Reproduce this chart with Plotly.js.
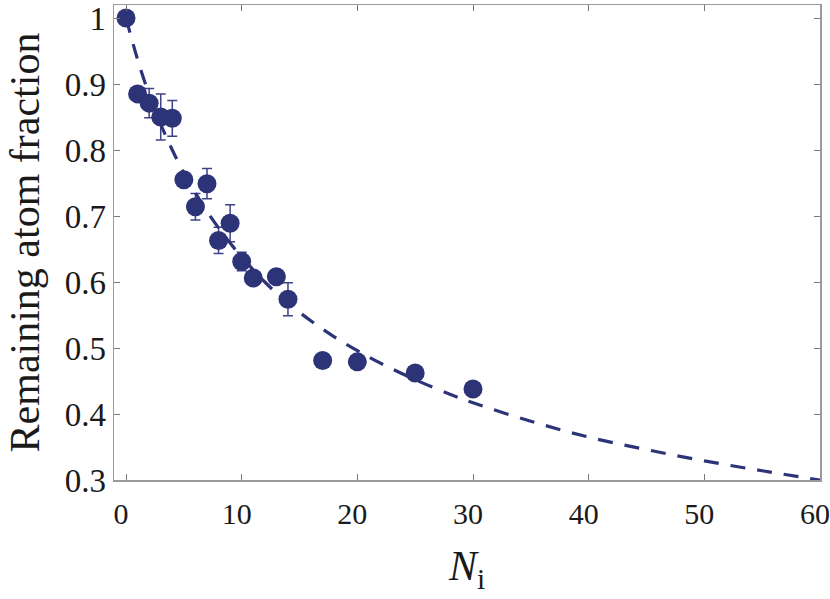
<!DOCTYPE html>
<html>
<head>
<meta charset="utf-8">
<script src="https://cdn.plot.ly/plotly-3.0.1.min.js"></script>
<style>html,body{margin:0;padding:0;background:#fff;}#chart{width:830px;height:599px;}</style>
</head>
<body>
<div id="chart"></div>
<script>
// Measured data (N_i, remaining atom fraction, error)
var dataN    = [0, 1, 2, 3, 4, 5, 6, 7, 8, 9, 10, 11, 13, 14, 17, 20, 25, 30];
var dataFrac = [1.0, 0.885, 0.871, 0.850, 0.848, 0.755, 0.714, 0.749, 0.663, 0.689, 0.631, 0.606, 0.608, 0.574, 0.481, 0.479, 0.462, 0.438];
var dataErr  = [0.004, 0.008, 0.022, 0.035, 0.027, 0.008, 0.020, 0.023, 0.020, 0.028, 0.014, 0.006, 0.006, 0.025, 0.005, 0.005, 0.005, 0.005];

// Fit curve
var fitN    = [0, 1, 2, 3, 4, 5, 6, 7, 8, 9, 10, 12, 14, 16, 18, 20, 22, 25, 28, 30, 35, 40, 45, 50, 55, 60];
var fitFrac = [1.0, 0.937, 0.884, 0.839, 0.800, 0.765, 0.735, 0.707, 0.682, 0.659, 0.638, 0.600, 0.568, 0.541, 0.517, 0.496, 0.477, 0.452, 0.430, 0.417, 0.389, 0.365, 0.346, 0.329, 0.314, 0.300];

var xTicks = [0, 10, 20, 30, 40, 50, 60];
var yTicks = [0.3, 0.4, 0.5, 0.6, 0.7, 0.8, 0.9, 1];
var yTickText = ['0.3', '0.4', '0.5', '0.6', '0.7', '0.8', '0.9', '1'];

var navy = '#2d3377';
var serif = '"Liberation Serif", "Times New Roman", serif';

var traces = [
  {
    x: dataN, y: dataFrac, type: 'scatter', mode: 'markers',
    marker: {size: 19, color: navy},
    error_y: {type: 'data', array: dataErr, visible: true, color: '#3c4285', thickness: 1.5, width: 5},
    showlegend: false, hoverinfo: 'x+y'
  },
  {
    x: fitN, y: fitFrac, type: 'scatter', mode: 'lines',
    line: {color: navy, width: 3.2, dash: '15px,12px', shape: 'spline', smoothing: 1},
    showlegend: false, hoverinfo: 'skip'
  }
];

var axisCommon = {
  showgrid: false, zeroline: false, showline: true,
  linecolor: '#9a9a9a', linewidth: 1.5,
  ticks: 'inside', ticklen: 6, tickwidth: 1, tickcolor: '#7a7a7a',
  mirror: 'ticks',
  ticklabeloverflow: 'allow',
  tickfont: {family: serif, size: 33, color: '#1a1a1a'}
};

var layout = {
  width: 830, height: 599,
  margin: {l: 114, r: 10, t: 5, b: 119},
  paper_bgcolor: '#fff', plot_bgcolor: '#fff',
  xaxis: Object.assign({}, axisCommon, {
    range: [-1.04, 60], tickvals: xTicks,
    tickfont: {family: serif, size: 30, color: '#1a1a1a'},
    ticklabelshift: -5,
    ticklabelstandoff: 6,
    title: {text: '<i>N</i><sub>i</sub>', font: {family: serif, size: 42, color: '#1a1a1a'}, standoff: 22}
  }),
  yaxis: Object.assign({}, axisCommon, {
    range: [0.3, 1.0197], tickvals: yTicks, ticktext: yTickText,
    title: {text: 'Remaining atom fraction', font: {family: serif, size: 42, color: '#1a1a1a'}, standoff: 12}
  })
};

Plotly.newPlot('chart', traces, layout, {displayModeBar: false, staticPlot: true});
</script>
</body>
</html>
